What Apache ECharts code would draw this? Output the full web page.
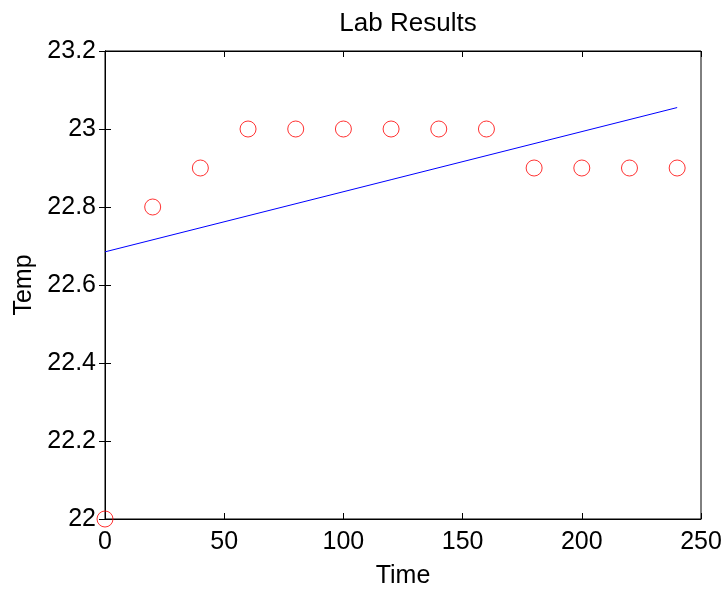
<!DOCTYPE html>
<html>
<head>
<meta charset="utf-8">
<script src="https://cdn.jsdelivr.net/npm/echarts@6/dist/echarts.min.js"></script>
<style>
  html, body { margin: 0; padding: 0; background: #fff; }
  #chart { width: 727px; height: 594px; }
</style>
</head>
<body>
<div id="chart"></div>
<script>
// measured points
var timeVals = [0, 20, 40, 60, 80, 100, 120, 140, 160, 180, 200, 220, 240];
var tempVals = [22, 22.8, 22.9, 23, 23, 23, 23, 23, 23, 22.9, 22.9, 22.9, 22.9];
// fitted line (end points)
var fitTime = [0, 240];
var fitTemp = [22.685, 23.055];

var font = 'Liberation Sans, Arial, Helvetica, sans-serif';

var myChart = echarts.init(document.getElementById('chart'));

var pts = timeVals.map(function (t, i) { return [t, tempVals[i]]; });
var fit = fitTime.map(function (t, i) { return [t, fitTemp[i]]; });

var tickInside = { show: true, inside: true, length: 6, lineStyle: { color: '#000', width: 1 } };

var option = {
  animation: false,
  backgroundColor: '#fff',
  title: {
    text: 'Lab Results',
    left: 403,
    textAlign: 'center',
    top: 6,
    textStyle: { fontFamily: font, fontSize: 26, fontWeight: 'normal', color: '#000' }
  },
  grid: {
    left: 105, right: 26, top: 51, bottom: 73,
    show: true, borderColor: '#000', borderWidth: 1, backgroundColor: '#fff'
  },
  xAxis: [
    {
      type: 'value', min: 0, max: 250, interval: 50,
      name: 'Time', nameLocation: 'middle', nameGap: 45,
      nameTextStyle: { fontFamily: font, fontSize: 25, color: '#000' },
      axisLine: { show: true, onZero: false, lineStyle: { color: '#000', width: 1 } },
      axisTick: tickInside,
      axisLabel: { fontFamily: font, fontSize: 25, color: '#000', margin: 11 },
      splitLine: { show: false }
    },
    {
      type: 'value', min: 0, max: 250, interval: 50, position: 'top',
      axisLine: { show: true, lineStyle: { color: '#000', width: 1 } },
      axisTick: tickInside,
      axisLabel: { show: false },
      splitLine: { show: false }
    }
  ],
  yAxis: [
    {
      type: 'value', min: 22, max: 23.2, interval: 0.2,
      name: 'Temp', nameLocation: 'middle', nameGap: 65, nameRotate: 90,
      nameTextStyle: { fontFamily: font, fontSize: 25, color: '#000' },
      axisLine: { show: true, onZero: false, lineStyle: { color: '#000', width: 1 } },
      axisTick: tickInside,
      axisLabel: {
        fontFamily: font, fontSize: 25, color: '#000', margin: 9,
        formatter: function (v) { return String(Math.round(v * 10) / 10); }
      },
      splitLine: { show: false }
    },
    {
      type: 'value', min: 22, max: 23.2, interval: 0.2, position: 'right',
      axisLine: { show: true, lineStyle: { color: '#000', width: 1 } },
      axisTick: tickInside,
      axisLabel: { show: false },
      splitLine: { show: false }
    }
  ],
  series: [
    {
      name: 'fit',
      type: 'line',
      data: fit,
      showSymbol: false,
      lineStyle: { color: '#0000ff', width: 1 },
      z: 2
    },
    {
      name: 'data',
      type: 'scatter',
      data: pts,
      symbol: 'circle',
      symbolSize: 16,
      clip: false,
      itemStyle: { color: 'rgba(0,0,0,0)', borderColor: '#ff0000', borderWidth: 1 },
      z: 3
    }
  ]
};

myChart.setOption(option);
</script>
</body>
</html>
